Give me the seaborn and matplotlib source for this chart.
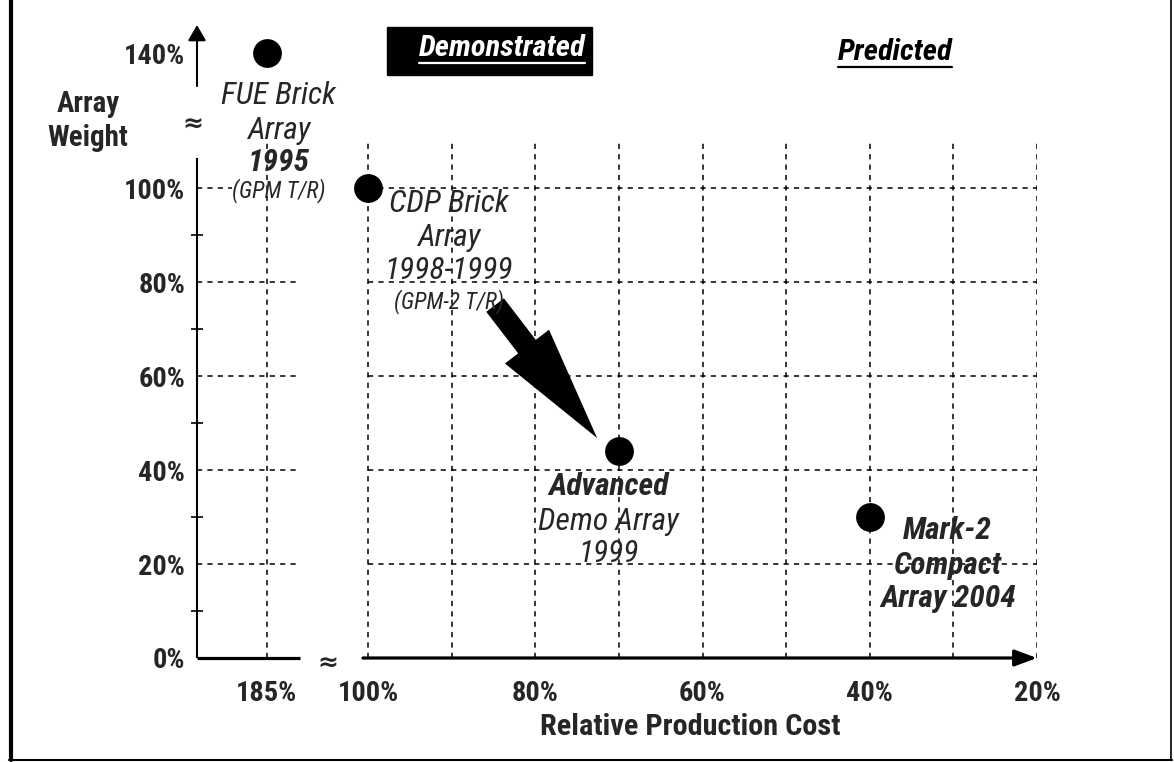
import numpy as np
import pandas as pd
import matplotlib
matplotlib.use("Agg")
import matplotlib.pyplot as plt
from matplotlib import font_manager
from matplotlib.lines import Line2D
from matplotlib.patches import Rectangle
import seaborn as sns

# ---------------- data ----------------
array_names = ["FUE Brick Array", "CDP Brick Array", "Advanced Demo Array", "Mark-2 Compact Array"]
relative_cost = [185, 100, 70, 40]        # Relative Production Cost (%)
array_weight = [140, 100, 44, 30]         # Array Weight (%)
label_lines = [
    ["FUE Brick", "Array", "1995", "(GPM T/R)"],
    ["CDP Brick", "Array", "1998-1999", "(GPM-2 T/R)"],
    ["Advanced", "Demo Array", "1999"],
    ["Mark-2", "Compact", "Array 2004"],
]
x_tick_values = [185, 100, 80, 60, 40, 20]
x_tick_labels = ["185%", "100%", "80%", "60%", "40%", "20%"]
y_tick_values = [0, 20, 40, 60, 80, 100, 140]
y_tick_labels = ["0%", "20%", "40%", "60%", "80%", "100%", "140%"]
y_minor_values = [10, 30, 50, 70, 90]
x_grid_values = [185, 100, 90, 80, 70, 60, 50, 40, 30, 20]
y_grid_values = [20, 40, 60, 80, 100]
section_titles = ["Demonstrated", "Predicted"]
x_title = "Relative Production Cost"
y_title = "Array\nWeight"

# ---------------- style ----------------
sns.set_style("white")
avail = {f.name for f in font_manager.fontManager.ttflist}
FAM, STRETCH = None, "normal"
for c in ["Liberation Sans Narrow", "Arial Narrow", "Roboto Condensed",
          "Noto Sans Condensed", "Open Sans Condensed", "DejaVu Sans Condensed"]:
    if c in avail:
        FAM = c
        break
if FAM is None:
    for f in font_manager.fontManager.ttflist:
        if f.name in ("Liberation Sans", "Roboto", "Noto Sans", "Open Sans", "DejaVu Sans") \
                and str(f.stretch) in ("condensed", "semi-condensed", "extra-condensed"):
            FAM, STRETCH = f.name, str(f.stretch)
            break
if FAM is None:
    FAM = "Liberation Sans"
plt.rcParams["font.family"] = [FAM, "DejaVu Sans"]
plt.rcParams["font.stretch"] = STRETCH

W, H = 1174, 762
def fx(px):
    return px / W
def fy(py):
    return 1 - py / H

# broken axes: values beyond 100% are compressed
def bx(v):
    v = np.asarray(v, float)
    return np.where(v > 100, 100 + (v - 100) * 12.1 / 85.0, v)
def by(v):
    v = np.asarray(v, float)
    return np.where(v > 100, 100 + (v - 100) * 28.7 / 40.0, v)

XL, XR, YT = 120.45, 20, 134.7

fig = plt.figure(figsize=(W / 100, H / 100), dpi=100)
fig.patch.set_facecolor("white")
renderer = fig.canvas.get_renderer()

def fit(s, target_px, weight="bold", style="normal", boost=1.0):
    t = fig.text(0, 0, s, fontsize=20, fontweight=weight, style=style)
    w = t.get_window_extent(renderer).width
    t.remove()
    return 20 * target_px / w * boost

BOOST = 1.0 if STRETCH != "normal" or FAM != "Liberation Sans" else 1.04
TICK_FS = fit("100%", 61, boost=BOOST)
XT_FS = fit(x_title, 300, boost=BOOST)
YT_FS = fit("Weight", 80, boost=BOOST)
LAB_FS = fit("CDP Brick", 120, weight="normal", style="italic", boost=BOOST)
SMALL_FS = fit("(GPM-2 T/R)", 110, weight="normal", style="italic")
TITLE_FS = fit("Demonstrated", 166, style="italic")

ax = fig.add_axes([fx(197), fy(658), (1037 - 197) / W, (658 - 25) / H])
ax.set_xlim(XL, XR)
ax.set_ylim(0, YT)
ax.patch.set_alpha(0)
for s in ax.spines.values():
    s.set_visible(False)

# grid
dash = (0, (3.4, 3.4))
for xv in x_grid_values:
    ax.plot([bx(xv)] * 2, [0, 110], color="black", lw=1.1, ls=dash, zorder=1)
for yv in y_grid_values:
    left_end = 116.3 if yv == 100 else 108.1
    ax.plot([XL, left_end], [yv, yv], color="black", lw=1.1, ls=dash, zorder=1)
    ax.plot([100, 20], [yv, yv], color="black", lw=1.1, ls=dash, zorder=1)

# points
df = pd.DataFrame({"array": array_names,
                   "cost": bx(relative_cost),
                   "weight": by(array_weight)})
sns.scatterplot(data=df, x="cost", y="weight", s=430, color="black",
                linewidth=0, ax=ax, zorder=5, clip_on=False, legend=False)

# axes lines
ax.plot([XL, XL], [0, 106.4], color="black", lw=1.5, clip_on=False,
        solid_capstyle="butt", zorder=3)
ax.annotate("", xy=(XL, YT), xytext=(XL, 121.7),
            arrowprops=dict(arrowstyle="-|>,head_length=0.95,head_width=0.55",
                            mutation_scale=10, color="black", lw=1.5,
                            shrinkA=0, shrinkB=0),
            annotation_clip=False, zorder=3)
ax.plot([XL, 108.1], [0, 0], color="black", lw=2.3, clip_on=False,
        solid_capstyle="butt", zorder=3)
ax.annotate("", xy=(XR, 0), xytext=(100.6, 0),
            arrowprops=dict(arrowstyle="-|>,head_length=1.35,head_width=0.5",
                            mutation_scale=10, color="black", lw=2.3,
                            shrinkA=0, shrinkB=0),
            annotation_clip=False, zorder=3)
ax.text(104.8, -1.2, "≈", ha="center", va="center", fontsize=18, fontweight="bold",
        family="DejaVu Sans")
ax.text(120.9, 113.5, "≈", ha="center", va="center", fontsize=18, fontweight="bold",
        family="DejaVu Sans")

# ticks
ax.set_xticks(bx(x_tick_values), x_tick_labels)
ax.set_yticks(by(y_tick_values), y_tick_labels)
ax.set_yticks(y_minor_values, minor=True)
ax.tick_params(axis="both", which="major", length=0)
ax.tick_params(axis="x", which="major", pad=16, labelsize=TICK_FS)
ax.tick_params(axis="y", which="major", pad=8.5, labelsize=TICK_FS)
ax.tick_params(axis="y", which="minor", left=True, length=8, width=1.2,
               direction="inout", color="black")
ax.tick_params(axis="x", which="minor", bottom=False)
for lab in ax.get_xticklabels() + ax.get_yticklabels():
    lab.set_fontweight("bold")

ax.set_xlabel(x_title, fontsize=XT_FS, fontweight="bold")
ax.xaxis.set_label_coords((690 - 197) / 840, (658 - 727) / 633)
ax.xaxis.label.set_va("center")
ax.set_ylabel(y_title, fontsize=YT_FS, fontweight="bold", rotation=0,
              ha="center", va="center", linespacing=1.25)
ax.yaxis.set_label_coords((88 - 197) / 840, (658 - 121) / 633)

# point labels
label_dx = [12, 81, -10, 78]
label_dy = [[-42, -77, -109, -137], [-15, -49, -82, -114], [-35, -70, -102], [-13, -48, -81]]
label_w = [["normal", "normal", "bold", "normal"],
           ["normal", "normal", "normal", "normal"],
           ["bold", "normal", "normal"],
           ["bold", "bold", "bold"]]
label_small = [[False, False, False, True], [False, False, False, True],
               [False, False, False], [False, False, False]]
for i in range(len(array_names)):
    for j, line in enumerate(label_lines[i]):
        ax.annotate(line, xy=(df["cost"][i], df["weight"][i]),
                    xytext=(label_dx[i], label_dy[i][j]), textcoords="offset pixels",
                    ha="center", va="center", style="italic",
                    fontweight=label_w[i][j],
                    fontsize=SMALL_FS if label_small[i][j] else LAB_FS,
                    annotation_clip=False, zorder=6)

# trend arrow (CDP -> Advanced)
ax.annotate("", xy=(72.6, 46.8), xytext=(84.8, 75.1),
            arrowprops=dict(arrowstyle="simple,head_length=8.3,head_width=4.0,tail_width=1.6",
                            mutation_scale=10, color="black", lw=0,
                            shrinkA=0, shrinkB=0), zorder=4)

# section titles
fig.add_artist(Rectangle((fx(387), fy(75)), (592 - 387) / W, 48 / H,
                         transform=fig.transFigure, color="black", zorder=2))
t1 = fig.text(fx(502), fy(48), section_titles[0], color="white", style="italic",
              fontweight="bold", fontsize=TITLE_FS, ha="center", va="center", zorder=3)
t2 = fig.text(fx(895), fy(52), section_titles[1], color="black", style="italic",
              fontweight="bold", fontsize=TITLE_FS, ha="center", va="center", zorder=3)

fig.canvas.draw()
for t, c in ((t1, "white"), (t2, "black")):
    bb = t.get_window_extent()
    y = (bb.y0 - 1.0) / fig.bbox.height
    fig.add_artist(Line2D([bb.x0 / fig.bbox.width, bb.x1 / fig.bbox.width], [y, y],
                          transform=fig.transFigure, color=c, lw=1.6, zorder=3))

# frame
fig.add_artist(Line2D([fx(10.5)] * 2, [fy(0), fy(760)], transform=fig.transFigure,
                      color="black", lw=3))
fig.add_artist(Line2D([fx(9), fx(1172)], [fy(759.5)] * 2, transform=fig.transFigure,
                      color="black", lw=1.5))
fig.add_artist(Line2D([fx(1171)] * 2, [fy(0), fy(760)], transform=fig.transFigure,
                      color="black", lw=1.2))

fig.savefig("out.png", dpi=100, facecolor="white")
